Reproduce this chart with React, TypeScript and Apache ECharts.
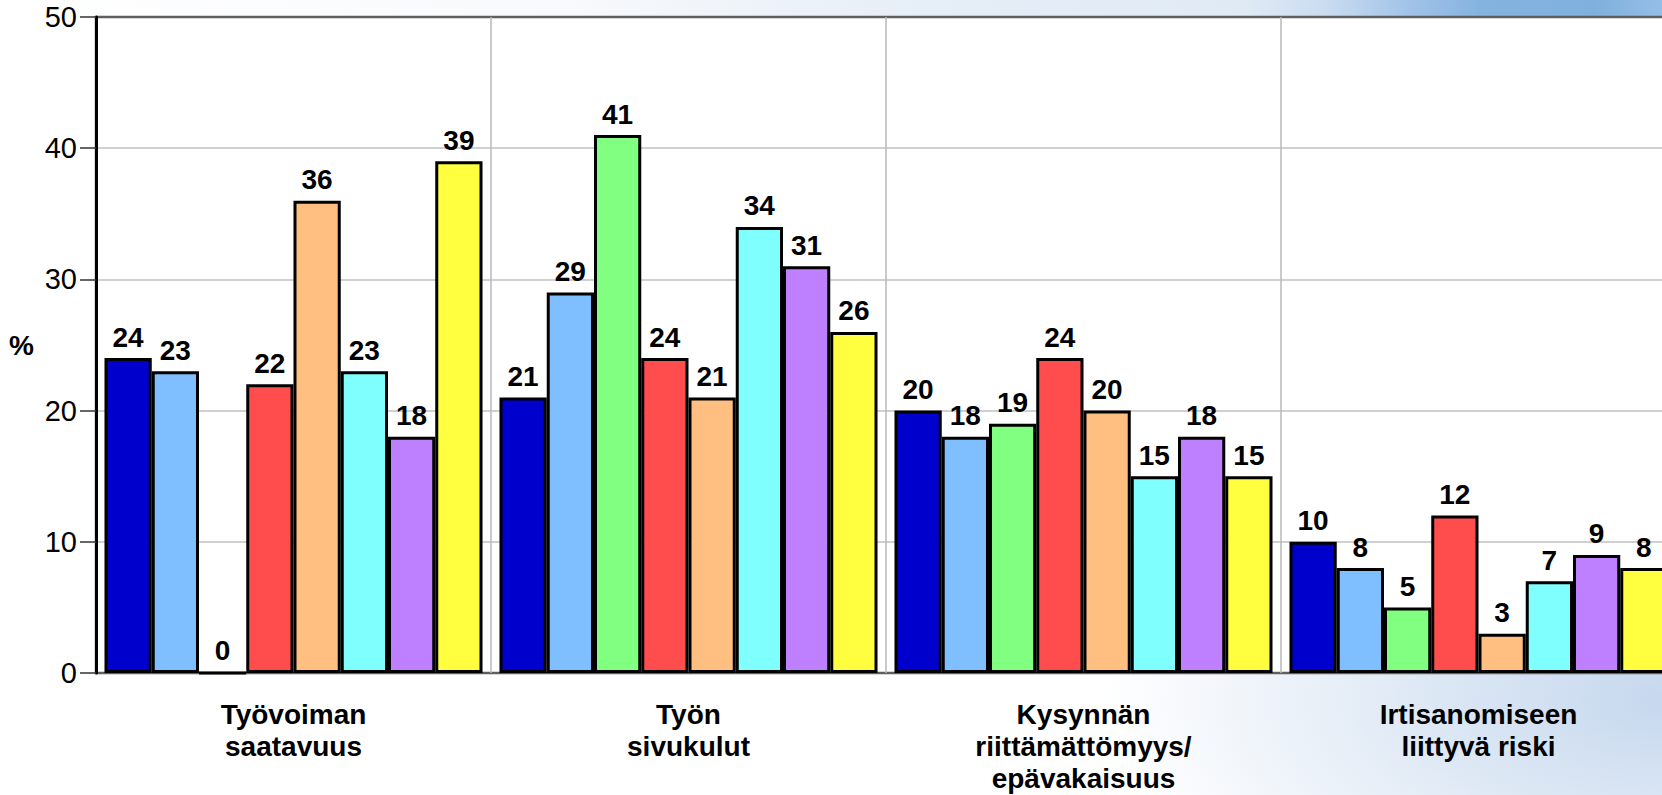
import React, { useEffect, useRef } from "react";
import * as echarts from "echarts";

const categories = [
  "Työvoiman\nsaatavuus",
  "Työn\nsivukulut",
  "Kysynnän\nriittämättömyys/\nepävakaisuus",
  "Irtisanomiseen\nliittyvä riski",
];

const seriesNames = ["Sarja 1", "Sarja 2", "Sarja 3", "Sarja 4", "Sarja 5", "Sarja 6", "Sarja 7", "Sarja 8"];
const seriesColors = ["#0000cc", "#80bfff", "#80ff80", "#ff4c4c", "#ffbf80", "#80ffff", "#bf80ff", "#ffff40"];

const values1 = [24, 21, 20, 10];
const values2 = [23, 29, 18, 8];
const values3 = [0, 41, 19, 5];
const values4 = [22, 24, 24, 12];
const values5 = [36, 21, 20, 3];
const values6 = [23, 34, 15, 7];
const values7 = [18, 31, 18, 9];
const values8 = [39, 26, 15, 8];
const allValues = [values1, values2, values3, values4, values5, values6, values7, values8];

const yTicks = { min: 0, max: 50, interval: 10 };
const yName = "%";

const FONT = "'Liberation Sans', Arial, Helvetica, sans-serif";

export default function App() {
  const ref = useRef<HTMLDivElement>(null);

  useEffect(() => {
    if (!ref.current) return;
    const chart = echarts.init(ref.current, undefined, { renderer: "svg" });
    chart.setOption({
      animation: false,
      grid: {
        left: 96,
        top: 17,
        width: 1580,
        height: 656,
        containLabel: false,
        outerBoundsMode: "none",
        show: true,
        backgroundColor: "#ffffff",
        borderColor: "#5f5f5f",
        borderWidth: 2.5,
      },
      xAxis: {
        type: "category",
        data: categories,
        axisLine: { show: false },
        axisTick: { show: false },
        splitLine: { show: true, interval: 0, lineStyle: { color: "#b8b8b8", width: 1.5 } },
        axisLabel: {
          interval: 0,
          margin: 25,
          color: "#000",
          fontFamily: FONT,
          fontSize: 28,
          fontWeight: "bold",
          lineHeight: 32,
        },
      },
      yAxis: {
        type: "value",
        min: yTicks.min,
        max: yTicks.max,
        interval: yTicks.interval,
        name: yName,
        nameLocation: "middle",
        nameRotate: 0,
        nameGap: 62,
        nameTextStyle: { color: "#000", fontFamily: FONT, fontSize: 28, fontWeight: "bold", padding: [0, 0, 12, 0] },
        axisLine: { show: true, lineStyle: { color: "#000", width: 3 } },
        axisTick: { show: true, inside: false, length: 16, lineStyle: { color: "#333", width: 1.5 } },
        splitLine: { show: true, showMaxLine: false, showMinLine: false, lineStyle: { color: "#c0c0c0", width: 1.5 } },
        axisLabel: { margin: 19, color: "#000", fontFamily: FONT, fontSize: 29 },
      },
      series: allValues.map((vals, i) => ({
        name: seriesNames[i],
        type: "bar",
        data: vals,
        barGap: "0%",
        barCategoryGap: "4.3%",
        itemStyle: { color: seriesColors[i], borderColor: "#000", borderWidth: 3 },
        label: {
          show: true,
          position: "top",
          distance: 7,
          color: "#000",
          fontFamily: FONT,
          fontSize: 28,
          fontWeight: "bold",
        },
      })),
    });
    return () => chart.dispose();
  }, []);

  const bg = [
    "linear-gradient(to right, #ffffff 0%, #f7f9fc 35%, #e6eef7 55%, #e0eaf5 75%, #c8dbf0 80%, #a0c2e8 85%, #85b3e0 89%, #80b0de 96%, #95bee6 100%) 0 0 / 100% 17px no-repeat",
    "radial-gradient(ellipse 560px 280px at 1662px 700px, #c6d8ee 0%, #dfe9f5 45%, rgba(255,255,255,0) 100%)",
    "#ffffff",
  ].join(", ");

  return (
    <div
      style={{
        position: "fixed",
        left: 0,
        top: 0,
        width: 1662,
        height: 795,
        overflow: "hidden",
        background: bg,
      }}
    >
      <div ref={ref} style={{ width: 1700, height: 795 }} />
    </div>
  );
}
